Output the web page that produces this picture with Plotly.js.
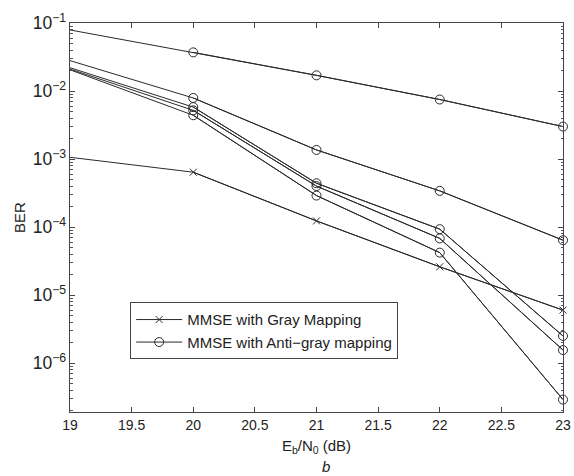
<!DOCTYPE html>
<html>
<head>
<meta charset="utf-8">
<script src="https://cdn.plot.ly/plotly-3.0.1.min.js"></script>
<style>html,body{margin:0;padding:0;background:#fff;}#chart{width:574px;height:476px;}</style>
</head>
<body>
<div id="chart"></div>
<script>
const ebn0 = [19, 20, 21, 22, 23];
const grayMMSE = [1.06e-3, 6.4e-4, 1.23e-4, 2.6e-5, 6.0e-6];
const antiGray1 = [0.079, 0.037, 0.017, 0.0075, 0.0030];
const antiGray2 = [0.028, 0.0079, 0.00136, 3.4e-4, 6.4e-5];
const antiGray3 = [0.022, 5.8e-3, 4.4e-4, 9.3e-5, 2.5e-6];
const antiGray4 = [0.021, 5.2e-3, 4.0e-4, 6.8e-5, 1.55e-6];
const antiGray5 = [0.0205, 4.4e-3, 2.9e-4, 4.2e-5, 2.9e-7];
const legendNames = ['MMSE with Gray Mapping', 'MMSE with Anti\u2212gray mapping'];

const lineColor = '#2a2a2a';
const traces = [];
function addSeries(y, symbol, size, name, showLegend) {
  traces.push({x: ebn0, y: y, mode: 'lines', line: {color: lineColor, width: 1}, showlegend: false, hoverinfo: 'skip'});
  const xs = [], ys = [];
  ebn0.forEach((v, i) => { if (v > ebn0[0]) { xs.push(v); ys.push(y[i]); } });
  traces.push({x: xs, y: ys, mode: 'lines+markers', name: name, showlegend: showLegend,
    line: {color: lineColor, width: 1},
    marker: {symbol: symbol, size: size, color: lineColor, line: {color: lineColor, width: 1}},
    cliponaxis: false});
}
addSeries(grayMMSE, 'x-thin-open', 7, legendNames[0], true);
addSeries(antiGray1, 'circle-open', 9, legendNames[1], true);
addSeries(antiGray2, 'circle-open', 9, legendNames[1], false);
addSeries(antiGray3, 'circle-open', 9, legendNames[1], false);
addSeries(antiGray4, 'circle-open', 9, legendNames[1], false);
addSeries(antiGray5, 'circle-open', 9, legendNames[1], false);

const font = {family: 'Liberation Sans, Arial, sans-serif', size: 14, color: '#222'};
const layout = {
  width: 574, height: 476,
  margin: {l: 70, r: 11, t: 23, b: 64},
  paper_bgcolor: '#fff', plot_bgcolor: '#fff',
  font: font,
  showlegend: true,
  legend: {x: 0.122, y: 0.282, xanchor: 'left', yanchor: 'top',
    bgcolor: '#fff', bordercolor: '#444', borderwidth: 1, itemwidth: 46,
    font: {family: font.family, size: 15, color: '#222'}, tracegroupgap: 0},
  xaxis: {
    range: [19, 23], dtick: 0.5, tick0: 19,
    ticks: 'inside', ticklen: 5, tickcolor: '#444',
    showline: true, linecolor: '#444', linewidth: 1, mirror: 'ticks',
    showgrid: false, zeroline: false,
    tickfont: {size: 14},
    title: {text: 'E<sub>b</sub>/N<sub>0</sub> (dB)', font: {size: 15}, standoff: 8}
  },
  yaxis: {
    type: 'log', range: [-6.72, -1],
    dtick: 1, exponentformat: 'power',
    ticks: 'inside', ticklen: 5, tickcolor: '#444',
    minor: {ticks: 'inside', ticklen: 2.5, tickcolor: '#555', showgrid: false},
    showline: true, linecolor: '#444', linewidth: 1, mirror: 'ticks',
    showgrid: false, zeroline: false,
    tickfont: {size: 14},
    title: {text: 'BER', font: {size: 15}, standoff: 3}
  },
  annotations: [{text: '<i>b</i>', xref: 'paper', yref: 'paper', x: 0.52, y: -0.112,
    xanchor: 'center', yanchor: 'top', showarrow: false, font: {size: 15, color: '#222'}}]
};
Plotly.newPlot('chart', traces, layout, {displayModeBar: false, staticPlot: true});
</script>
</body>
</html>
